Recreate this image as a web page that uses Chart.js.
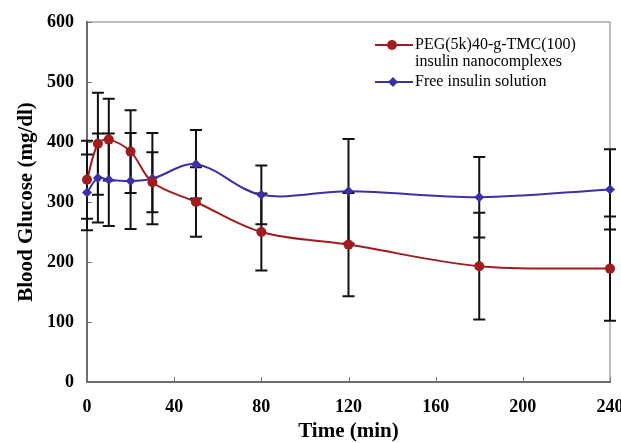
<!DOCTYPE html>
<html>
<head>
<meta charset="utf-8">
<script src="https://cdn.jsdelivr.net/npm/chart.js@4.4.1/dist/chart.umd.min.js"></script>
<style>
  html, body { margin: 0; background: #fff; }
</style>
</head>
<body>
<canvas id="chart" width="621" height="443"></canvas>
<script>
// time points (min)
const times = [0, 5, 10, 20, 30, 50, 80, 120, 180, 240];

// PEG(5k)40-g-TMC(100) insulin nanocomplexes
const pegMean = [337, 397, 404, 384, 333, 300, 250, 229, 193, 189];
const pegErr  = [65, 85, 68, 69, 50, 58, 64, 86, 89, 87];

// Free insulin solution
const freeMean = [316, 340, 337, 335, 339, 363, 312, 318, 308, 321];
const freeErr  = [63, 74, 77, 80, 76, 57, 49, 87, 67, 67];

const seriesNames = [
  ["PEG(5k)40-g-TMC(100)", "insulin nanocomplexes"],
  ["Free insulin solution"]
];

const xTicks = [0, 40, 80, 120, 160, 200, 240];
const yTicks = [0, 100, 200, 300, 400, 500, 600];

const RED = "#a01d1f";
const BLUE = "#3b31a3";
const SERIF = "'Liberation Serif', 'Times New Roman', serif";

function toPoints(xs, ys) {
  return xs.map((x, i) => ({ x: x, y: ys[i] }));
}

// error bars, drawn under the markers
const errorBars = {
  id: "errorBars",
  beforeDatasetsDraw(chart) {
    const { ctx, scales: { x, y } } = chart;
    const errs = [pegErr, freeErr];
    ctx.save();
    ctx.strokeStyle = "#111";
    ctx.lineWidth = 2;
    chart.data.datasets.forEach((ds, di) => {
      ds.data.forEach((p, i) => {
        const px = x.getPixelForValue(p.x);
        const top = y.getPixelForValue(p.y + errs[di][i]);
        const bot = y.getPixelForValue(p.y - errs[di][i]);
        ctx.beginPath();
        ctx.moveTo(px, top); ctx.lineTo(px, bot);
        ctx.moveTo(px - 6, top); ctx.lineTo(px + 6, top);
        ctx.moveTo(px - 6, bot); ctx.lineTo(px + 6, bot);
        ctx.stroke();
      });
    });
    ctx.restore();
  }
};

// plot frame + inward tick marks
const frame = {
  id: "frame",
  beforeDraw(chart) {
    const { ctx, chartArea: a, scales: { x, y } } = chart;
    ctx.save();
    ctx.strokeStyle = "#a8a8a8";
    ctx.lineWidth = 1.5;
    ctx.beginPath();
    ctx.moveTo(a.left, a.top); ctx.lineTo(a.right, a.top); ctx.lineTo(a.right, a.bottom);
    ctx.stroke();
    ctx.strokeStyle = "#777";
    ctx.lineWidth = 1;
    ctx.beginPath();
    xTicks.forEach(v => {
      const px = Math.round(x.getPixelForValue(v)) + 0.5;
      ctx.moveTo(px, a.bottom); ctx.lineTo(px, a.bottom - 5);
    });
    yTicks.forEach(v => {
      const py = Math.round(y.getPixelForValue(v)) + 0.5;
      ctx.moveTo(a.left, py); ctx.lineTo(a.left + 5, py);
    });
    ctx.stroke();
    ctx.restore();
  }
};

// legend inside the plot, top right, with the two-line label
const legendBox = {
  id: "legendBox",
  afterDraw(chart) {
    const { ctx, chartArea: a } = chart;
    const x0 = a.right - 235, rows = [a.top + 23, a.top + 60];
    ctx.save();
    ctx.font = "16px " + SERIF;
    ctx.fillStyle = "#000";
    ctx.textBaseline = "middle";
    chart.data.datasets.forEach((ds, i) => {
      const cy = rows[i];
      ctx.strokeStyle = ds.borderColor;
      ctx.lineWidth = 2;
      ctx.beginPath();
      ctx.moveTo(x0, cy); ctx.lineTo(x0 + 38, cy);
      ctx.stroke();
      ctx.fillStyle = ds.backgroundColor;
      ctx.beginPath();
      if (ds.pointStyle === "rectRot") {
        ctx.moveTo(x0 + 18, cy - 5); ctx.lineTo(x0 + 23, cy);
        ctx.lineTo(x0 + 18, cy + 5); ctx.lineTo(x0 + 13, cy);
      } else {
        ctx.arc(x0 + 17, cy, 5, 0, Math.PI * 2);
      }
      ctx.fill();
      ctx.fillStyle = "#000";
      seriesNames[i].forEach((t, k) => ctx.fillText(t, x0 + 40, cy + k * 17));
    });
    ctx.restore();
  }
};

new Chart(document.getElementById("chart"), {
  type: "line",
  data: {
    datasets: [
      {
        label: seriesNames[0].join(" "),
        data: toPoints(times, pegMean),
        borderColor: RED,
        backgroundColor: RED,
        borderWidth: 2,
        pointStyle: "circle",
        pointRadius: 5,
        pointBorderWidth: 0,
        tension: 0.35,
        clip: false
      },
      {
        label: seriesNames[1].join(" "),
        data: toPoints(times, freeMean),
        borderColor: BLUE,
        backgroundColor: BLUE,
        borderWidth: 2,
        pointStyle: "rectRot",
        pointRadius: 5,
        pointBorderWidth: 0,
        tension: 0.35,
        clip: false
      }
    ]
  },
  options: {
    responsive: false,
    animation: false,
    events: [],
    layout: { padding: { top: 22, right: 11, left: 0, bottom: 0 } },
    plugins: { legend: { display: false }, tooltip: { enabled: false } },
    scales: {
      x: {
        type: "linear",
        min: 0,
        max: 240,
        afterBuildTicks: s => { s.ticks = xTicks.map(v => ({ value: v })); },
        afterFit: s => { s.height = 61; s.paddingLeft = 0; s.paddingRight = 0; },
        grid: { display: false },
        border: { display: true, color: "#6e6e6e", width: 2 },
        ticks: { padding: 7, color: "#000", font: { family: SERIF, size: 18, weight: "bold" } },
        title: {
          display: true, text: "Time (min)", color: "#000",
          padding: { top: 0, bottom: 1 },
          font: { family: SERIF, size: 21, weight: "bold", lineHeight: 1 }
        }
      },
      y: {
        min: 0,
        max: 600,
        afterBuildTicks: s => { s.ticks = yTicks.map(v => ({ value: v })); },
        afterFit: s => { s.width = 87; },
        grid: { display: false },
        border: { display: true, color: "#6e6e6e", width: 2 },
        ticks: { padding: 5, color: "#000", font: { family: SERIF, size: 18, weight: "bold" } },
        title: {
          display: true, text: "Blood Glucose (mg/dl)", color: "#000",
          padding: { top: 16, bottom: 0 },
          font: { family: SERIF, size: 21, weight: "bold", lineHeight: 1 }
        }
      }
    }
  },
  plugins: [frame, errorBars, legendBox]
});
</script>
</body>
</html>
